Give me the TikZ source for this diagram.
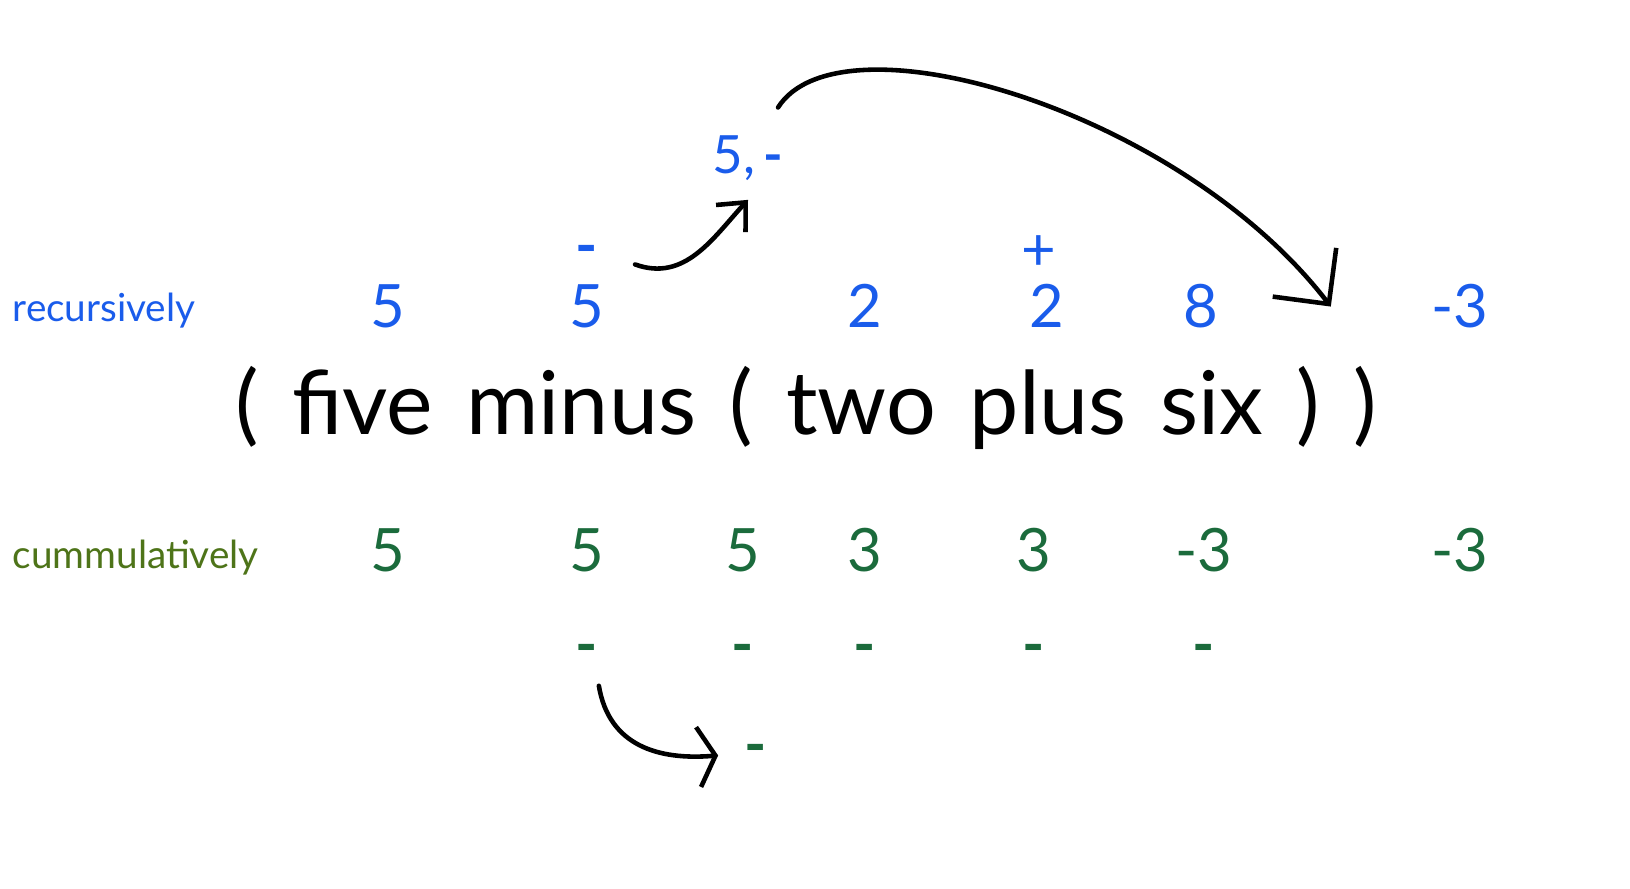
\documentclass[tikz,border=0pt]{standalone}
\usepackage{fontspec}
\setmainfont{Lato}
\usetikzlibrary{positioning}
\usetikzlibrary{arrows.meta}
\definecolor{recblue}{HTML}{1A5CEB}
\definecolor{cumgreen}{HTML}{1B6B3C}
\definecolor{cumolive}{HTML}{4E7419}

\begin{document}
\begin{tikzpicture}[
x=0.01cm, y=-0.01cm,
every node/.style={inner sep=0, anchor=base},
rec/.style={text=recblue, font=\fontsize{17}{20}\selectfont},
cum/.style={text=cumgreen, font=\fontsize{17}{20}\selectfont},
rowlabel/.style={anchor=base west, font=\fontsize{11}{13}\selectfont},
hand/.style={line width=1.3pt, line cap=round}
]
\useasboundingbox (0,0) rectangle (1630,889);

% the expression
\node[font=\fontsize{25}{29}\selectfont] (expr) at (806,435)
  {\spaceskip=9.5pt ( five minus ( two plus six ) )};

% recursively
\node[rowlabel, text=recblue] (reclabel) at (12,322) {recursively};
\node[rec] (r1) at (388,328) {5};
\node[rec] (r2) at (587,328) {5};
\node[rec] (r3) at (865,328) {2};
\node[rec] (r4) at (1047,328) {2};
\node[rec] (r5) at (1201,328) {8};
\node[rec] (r6) at (1460,328) {-3};
\node[rec, anchor=south, above=1.7mm of r2] (rminus) {\textbf{-}};
\node[rec, anchor=south, above left=1.3mm and -2.8mm of r4] (rplus) {+};
\node[rec, font=\fontsize{15}{18}\selectfont] (acc) at (748,174) {5,\,\textbf{-}};

% cummulatively
\node[rowlabel, text=cumolive] (cumlabel) at (12,569) {cummulatively};
\node[cum] (c1) at (388,572) {5};
\node[cum] (c2) at (587,572) {5};
\node[cum] (c3) at (743,572) {5};
\node[cum] (c4) at (865,572) {3};
\node[cum] (c5) at (1034,572) {3};
\node[cum] (c6) at (1204,572) {-3};
\node[cum] (c7) at (1460,572) {-3};
\node[cum, anchor=north, below=7mm of c2] (c2m) {\textbf{-}};
\node[cum, anchor=north, below=7mm of c3] (c3m) {\textbf{-}};
\node[cum, anchor=north, below=7mm of c4] (c4m) {\textbf{-}};
\node[cum, anchor=north, below=7mm of c5] (c5m) {\textbf{-}};
\node[cum, anchor=north, below=7mm of c6] (c6m) {\textbf{-}};
\node[cum] (held) at (756,766) {\textbf{-}};

% arrow ends
\coordinate[above right=2mm and 3mm of r2.north east] (a1from);
\coordinate[below=1.8mm of acc] (a1to);
\coordinate[above right=2.8mm and 3mm of acc.north] (a2from);
\coordinate[left=1cm of r6] (a2to);
\coordinate[below=2mm of c2m.south east] (a3from);
\coordinate[left=2.6mm of held.west] (a3to);

\draw[hand, -{Straight Barb[length=2.2mm, width=4mm]}]
  (a1from) .. controls +(50,18) and +(-35,38) .. (a1to);
\draw[hand, -{Straight Barb[length=4mm, width=8mm]}]
  (a2from) .. controls (840,10) and (1180,110) .. (a2to);
\draw[hand, -{Straight Barb[length=1.7mm, width=6mm]}]
  (a3from) .. controls +(10,60) and +(-60,5) .. (a3to);
\end{tikzpicture}
\end{document}
